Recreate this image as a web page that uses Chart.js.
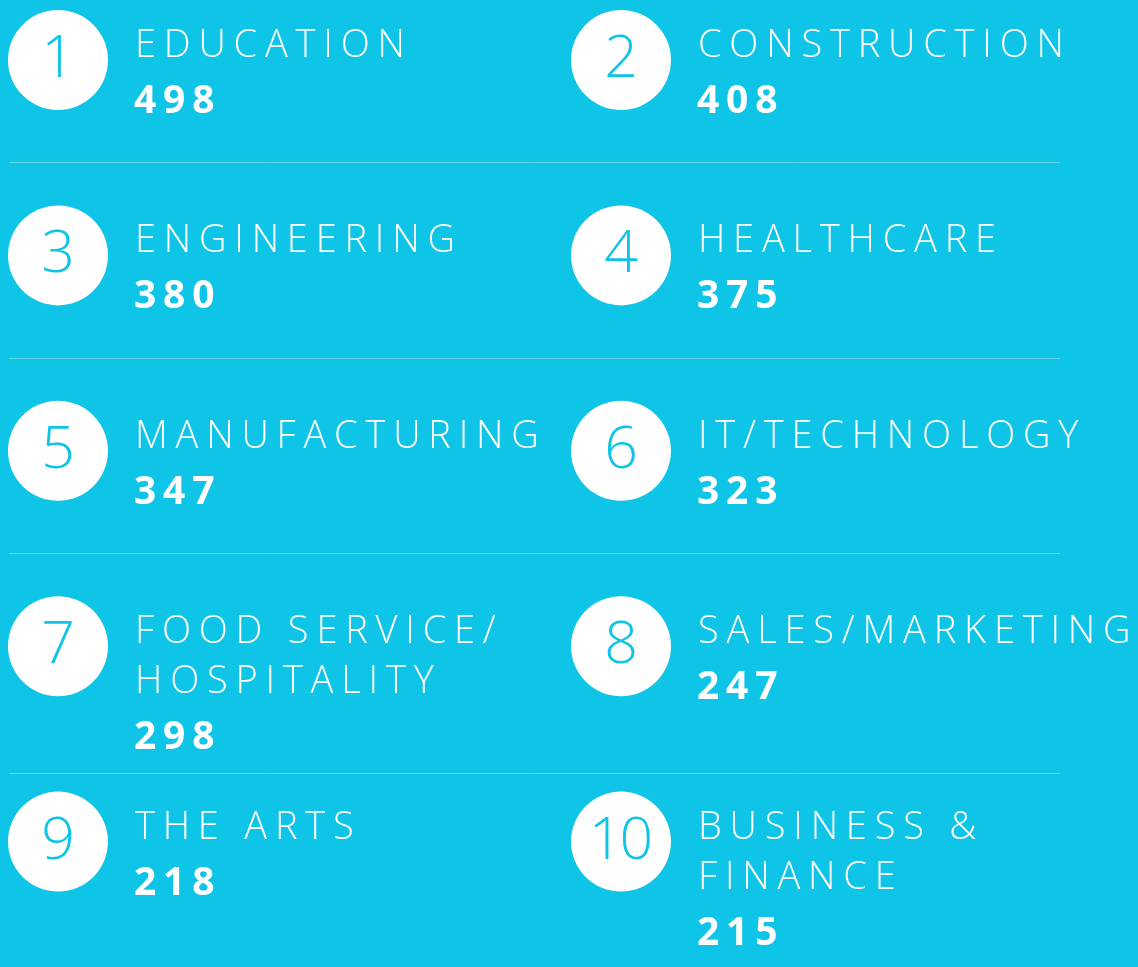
<!DOCTYPE html>
<html>
<head>
<meta charset="utf-8">
<script src="https://cdn.jsdelivr.net/npm/chart.js@4.4.1/dist/chart.umd.min.js"></script>
<style>
  html, body { margin: 0; padding: 0; background: #0EC4E7; }
  #wrap { width: 1138px; height: 967px; }
  canvas { display: block; }
</style>
</head>
<body>
<div id="wrap"><canvas id="c" width="1138" height="967"></canvas></div>
<script>
// ---- data ----
const ranks = [1, 2, 3, 4, 5, 6, 7, 8, 9, 10];
const categories = [
  ['EDUCATION'], ['CONSTRUCTION'], ['ENGINEERING'], ['HEALTHCARE'],
  ['MANUFACTURING'], ['IT/TECHNOLOGY'], ['FOOD SERVICE/', 'HOSPITALITY'],
  ['SALES/MARKETING'], ['THE ARTS'], ['BUSINESS &', 'FINANCE']
];
const values = [498, 408, 380, 375, 347, 323, 298, 247, 218, 215];

// ---- style ----
const BG = '#0EC4E7';
const LINE = '#62D6EF';
const FONT = '"Open Sans", "Lato", sans-serif';

// grid placement: two columns, rows of two
const points = ranks.map(r => ({ x: (r - 1) % 2, y: Math.floor((r - 1) / 2) }));

function drawSpaced(ctx, text, x, y, spacing, align) {
  let total = 0;
  const widths = [];
  for (const ch of text) { const w = ctx.measureText(ch).width; widths.push(w); total += w; }
  total += spacing * (widths.length - 1);
  let cx = align === 'center' ? x - total / 2 : x;
  let i = 0;
  for (const ch of text) { ctx.fillText(ch, cx, y); cx += widths[i++] + spacing; }
}

const infographic = {
  id: 'infographic',
  beforeDraw(chart) {
    const ctx = chart.ctx;
    ctx.save();
    ctx.fillStyle = BG;
    ctx.fillRect(0, 0, chart.width, chart.height);
    ctx.restore();
  },
  afterDatasetsDraw(chart) {
    const ctx = chart.ctx;
    const meta = chart.getDatasetMeta(0);
    const ca = chart.chartArea;
    const R = 50;
    ctx.save();
    ctx.textAlign = 'left';
    ctx.textBaseline = 'alphabetic';
    const rowBottoms = {};
    const rowTops = {};
    meta.data.forEach((el, i) => {
      const cx = el.x, cy = el.y;
      const row = points[i].y;
      // rank number in circle
      ctx.fillStyle = BG;
      ctx.font = '300 59px ' + FONT;
      drawSpaced(ctx, String(ranks[i]), cx, cy + 17, -3, 'center');
      // label lines
      ctx.fillStyle = '#FFFFFF';
      ctx.font = '300 38px ' + FONT;
      const lines = categories[i];
      const by = cy - 3;
      lines.forEach((ln, k) => {
        drawSpaced(ctx, ln, cx + 77, by + k * 50, 7.8, 'left');
      });
      const lastBase = by + (lines.length - 1) * 50;
      // value
      ctx.font = '700 39px ' + FONT;
      const vb = lastBase + 56;
      drawSpaced(ctx, String(values[i]), cx + 76, vb, 6.8, 'left');
      rowBottoms[row] = Math.max(rowBottoms[row] === undefined ? -1e9 : rowBottoms[row], vb);
      rowTops[row] = Math.min(rowTops[row] === undefined ? 1e9 : rowTops[row], cy - R);
    });
    // separators between rows
    ctx.strokeStyle = LINE;
    ctx.lineWidth = 1;
    const rows = Object.keys(rowBottoms).map(Number).sort((a, b) => a - b);
    for (let k = 0; k < rows.length - 1; k++) {
      const yy = Math.round((rowBottoms[rows[k]] + rowTops[rows[k + 1]]) / 2 + 3) + 0.5;
      ctx.beginPath();
      ctx.moveTo(ca.left, yy);
      ctx.lineTo(ca.right, yy);
      ctx.stroke();
    }
    ctx.restore();
  }
};

new Chart(document.getElementById('c'), {
  type: 'scatter',
  data: {
    datasets: [{
      data: points,
      pointRadius: 50,
      pointHoverRadius: 50,
      pointBackgroundColor: '#FFFFFF',
      pointBorderWidth: 0,
      borderWidth: 0,
      clip: false
    }]
  },
  options: {
    responsive: false,
    devicePixelRatio: 1,
    animation: false,
    events: [],
    layout: { autoPadding: false, padding: { left: 9, right: 78, top: 0, bottom: 0 } },
    scales: {
      x: { type: 'linear', display: false, min: -0.08703, max: 1.7798 },
      y: { type: 'linear', display: false, reverse: true, min: -0.3071, max: 4.6417 }
    },
    plugins: { legend: { display: false }, tooltip: { enabled: false } }
  },
  plugins: [infographic]
});
</script>
</body>
</html>
